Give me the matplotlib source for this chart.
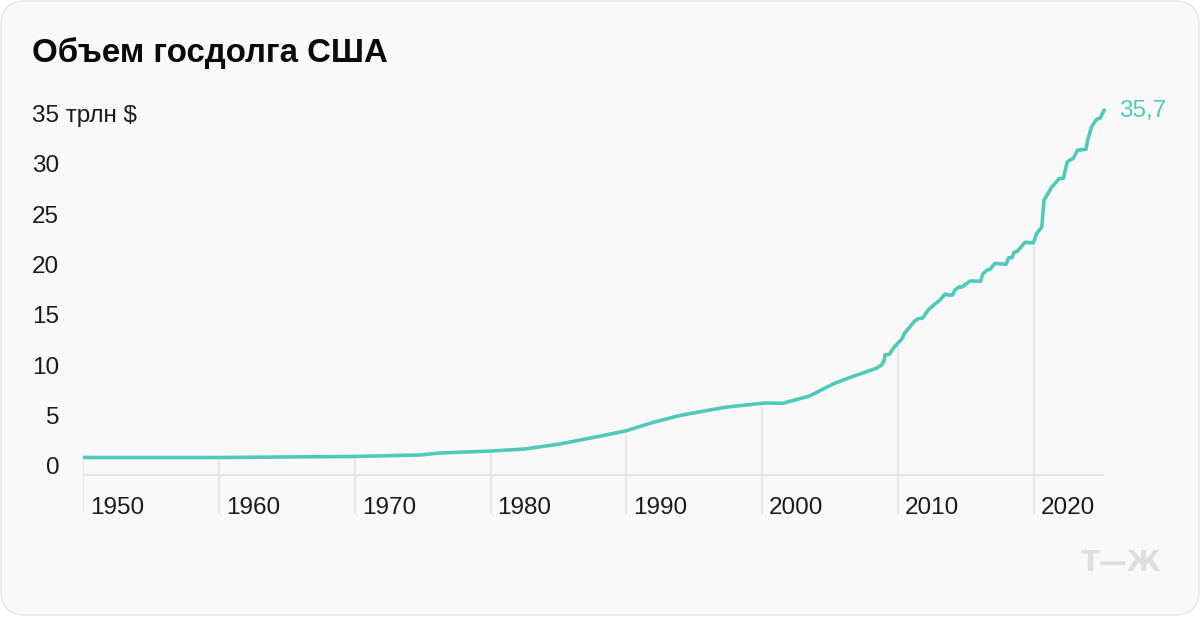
import numpy as np
import matplotlib
matplotlib.use('Agg')
import matplotlib.pyplot as plt
from matplotlib.patches import FancyBboxPatch

plt.rcParams['font.family'] = ['Liberation Sans', 'DejaVu Sans']

title = 'Объем госдолга США'
source_mark = 'Т—Ж'
last_label = '35,7'
y_ticks = [0, 5, 10, 15, 20, 25, 30, 35]
y_labels = ['0', '5', '10', '15', '20', '25', '30', '35 трлн $']
x_ticks = [1950, 1960, 1970, 1980, 1990, 2000, 2010, 2020]

years = [1950.0, 1960.2, 1970.0, 1974.8, 1976.3, 1980.0, 1982.5, 1985.1, 1988.1, 1990.0,
         1992.0, 1993.9, 1995.9, 1997.4, 2000.2, 2001.5, 2003.5, 2005.2, 2006.5, 2008.4,
         2008.8, 2008.98, 2009.03, 2009.35, 2009.64, 2010.01, 2010.26, 2010.5, 2011.24, 2011.48,
         2011.8, 2012.22, 2012.71, 2013.08, 2013.45, 2013.69, 2014.01, 2014.18, 2014.5, 2014.67,
         2015.29, 2016.07, 2016.22, 2016.52, 2016.76, 2017.13, 2017.94, 2018.14, 2018.38, 2018.53,
         2018.77, 2019.34, 2019.95, 2020.2, 2020.57, 2020.74, 2021.3, 2021.84, 2022.16, 2022.45,
         2022.89, 2023.21, 2023.82, 2023.95, 2024.24, 2024.49, 2024.61, 2024.86, 2025.17]
debt = [1.69, 1.69, 1.79, 1.94, 2.14, 2.33, 2.53, 3.03, 3.82, 4.35,
        5.19, 5.85, 6.35, 6.70, 7.10, 7.07, 7.80, 8.99, 9.66, 10.55,
        10.88, 11.37, 11.87, 11.94, 12.53, 13.09, 13.43, 14.08, 15.27, 15.47,
        15.54, 16.34, 16.93, 17.33, 17.92, 17.82, 17.82, 18.32, 18.65, 18.59,
        19.22, 19.19, 19.88, 20.28, 20.38, 20.97, 20.87, 21.53, 21.53, 22.07,
        22.16, 23.06, 22.99, 23.95, 24.55, 27.26, 28.52, 29.37, 29.41, 31.06,
        31.40, 32.22, 32.29, 33.22, 34.54, 35.03, 35.27, 35.37, 36.2]

W, H = 1200, 617
LINE = '#4fcaba'
GRID = '#e3e3e3'
TEXT = '#1a1a1a'

fig = plt.figure(figsize=(W / 100, H / 100), dpi=100, facecolor='white')

# card behind everything, in pixels
bg = fig.add_axes([0, 0, 1, 1], zorder=0)
bg.set_xlim(0, W)
bg.set_ylim(H, 0)
bg.axis('off')
bg.add_patch(FancyBboxPatch((1, 1), W - 2, H - 3, boxstyle='round,pad=0,rounding_size=24',
                            fc='#f9f9f9', ec='#e6e6e6', lw=1))

# 1950 sits at x=83, 2020 at x=1034; 0 at y=474.5, 10.07 px per unit
px_year = (1034 - 83) / 70
px_val = 10.07
x0, x1 = 83, 1180
y_bot, y_top = 514, 90
ax = fig.add_axes([x0 / W, 1 - y_bot / H, (x1 - x0) / W, (y_bot - y_top) / H], zorder=1)
ax.set_xlim(1950, 1950 + (x1 - x0) / px_year)
ax.set_ylim((474.5 - y_bot) / px_val, (474.5 - y_top) / px_val)
ax.axis('off')
ax.patch.set_alpha(0)

ax.plot([1950, years[-1]], [0, 0], color=GRID, lw=1.2, solid_capstyle='butt')
ax.vlines(x_ticks, ax.get_ylim()[0], np.interp(x_ticks, years, debt), color=GRID, lw=1.1)
ax.plot(years, debt, color=LINE, lw=2.6, solid_joinstyle='round', solid_capstyle='round', zorder=3)

for t in x_ticks:
    ax.annotate(str(t), (t, 0), xytext=(5, -16.5), textcoords='offset points', fontsize=17.5,
                color=TEXT, ha='left', va='top', annotation_clip=False)

for v, lab in zip(y_ticks, y_labels):
    fig.text(32 / W if v >= 10 else 46 / W, 1 - (467 - v * px_val + 1.5) / H, lab, fontsize=17.5, color=TEXT,
             ha='left', va='center')

ax.annotate(last_label, (years[-1], debt[-1]), xytext=(11, -1), textcoords='offset points', fontsize=17.5,
            color=LINE, ha='left', va='center', annotation_clip=False)

fig.text(32 / W, 1 - 53 / H, title, fontsize=23.8, fontweight='bold', color='#0a0a0a', ha='left', va='center')
fig.text(1121 / W, 1 - 563 / H, source_mark, fontsize=20, fontweight='bold', color='#dedede', ha='center', va='center',
         family='DejaVu Sans')

fig.savefig('out.png', dpi=100)
